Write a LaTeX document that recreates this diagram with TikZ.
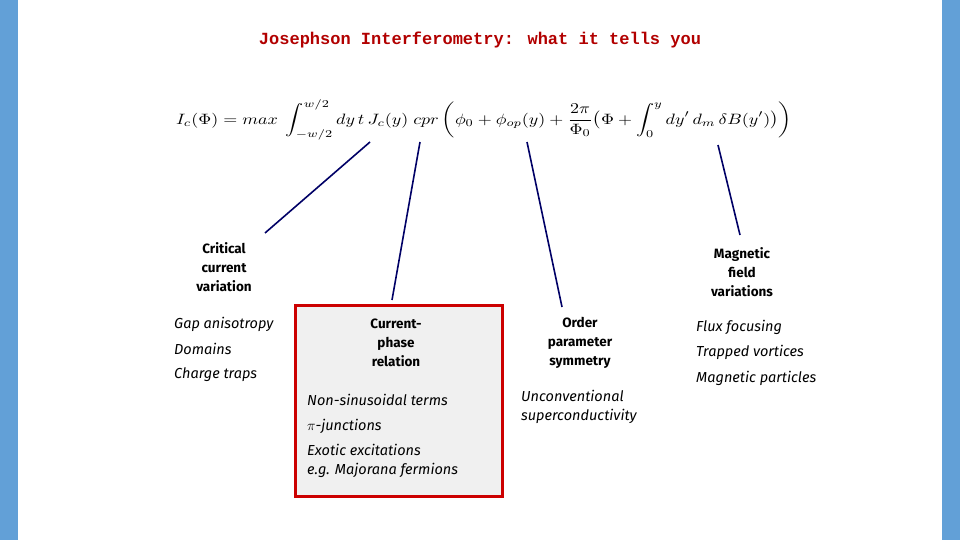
\documentclass[tikz,border=0pt]{standalone}
\usepackage{fontspec}
\setmainfont{Fira Sans}
\newfontfamily\titlefont{Liberation Mono}
\definecolor{side}{RGB}{98,160,215}
\begin{document}
\begin{tikzpicture}[x=1pt,y=-1pt,
  conn/.style={draw=blue!40!black,line width=1.6pt},
  lbl/.style={font=\fontsize{13.5}{19}\selectfont\bfseries,align=center,inner sep=0},
  itm/.style={font=\fontsize{14.5}{19.5}\selectfont\itshape,align=left,anchor=west,inner sep=0}]
\useasboundingbox (0,0) rectangle (960,540);
\fill[white] (0,0) rectangle (960,540);
\fill[side] (0,0) rectangle (18,540);
\fill[side] (942,0) rectangle (960,540);
\node (title) at (480,40) {\titlefont\bfseries\fontsize{17}{20}\selectfont\color{red!70!black}Josephson Interferometry: what it tells you};
\node (eq) at (484,120) {\scalebox{1.8}[1.5]{$\displaystyle I_c(\Phi)=max\;\int_{-w/2}^{w/2}dy\,t\,J_c(y)\;cpr\left(\phi_0+\phi_{op}(y)+\frac{2\pi}{\Phi_0}\bigl(\Phi+\int_0^y dy'\,d_m\,\delta B(y')\bigr)\right)$}};
\coordinate (a1) at (370,142); \coordinate (b1) at (265,233);
\coordinate (a2) at (420,142); \coordinate (b2) at (392,300);
\coordinate (a3) at (527,142); \coordinate (b3) at (562,307);
\coordinate (a4) at (718,145); \coordinate (b4) at (740,235);
\draw[conn] (a1)--(b1); \draw[conn] (a2)--(b2); \draw[conn] (a3)--(b3); \draw[conn] (a4)--(b4);
\node[draw=red!80!black,line width=2.5pt,fill=black!6,minimum width=207pt,minimum height=191pt,anchor=north west,inner sep=0] (box) at (294,304) {};
\node[lbl] (l1) at (224,267) {Critical\\current\\variation};
\node[lbl] (l2) at (396,343) {Current-\\phase\\relation};
\node[lbl] (l3) at (580,343) {Order\\parameter\\symmetry};
\node[lbl] (l4) at (742,272) {Magnetic\\field\\variations};
\node[itm] (i1) at (174,324) {Gap anisotropy};
\node[itm] (i2) at (174,349) {Domains};
\node[itm] (i3) at (174,375) {Charge traps};
\node[itm] (i4) at (307,400) {Non-sinusoidal terms};
\node[itm] (i5) at (307,426) {$\pi$-junctions};
\node[itm,align=left] (i6) at (307,461) {Exotic excitations\\e.g. Majorana fermions};
\node[itm] (i7) at (521,407) {Unconventional\\superconductivity};
\node[itm] (i8) at (696,327) {Flux focusing};
\node[itm] (i9) at (696,352) {Trapped vortices};
\node[itm] (i10) at (696,378) {Magnetic particles};
\end{tikzpicture}
\end{document}
